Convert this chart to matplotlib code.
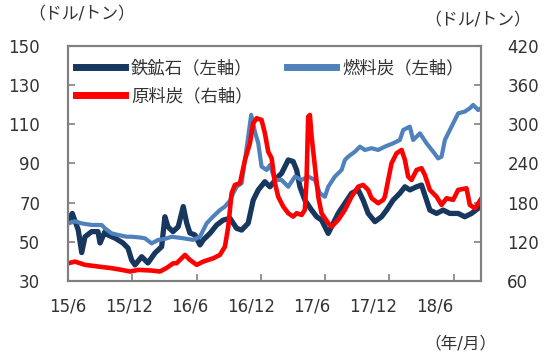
import matplotlib
matplotlib.use("Agg")
import matplotlib.pyplot as plt

plt.rcParams["font.family"] = ["DejaVu Sans", "Noto Sans CJK JP"]

# Monate seit 2015/6
tick_labels = ["15/6", "15/12", "16/6", "16/12", "17/6", "17/12", "18/6"]

# 鉄鉱石 (ドル/トン, linke Achse)
t_iron = [0.03, 0.40, 0.96, 1.28, 1.59, 2.21, 2.80, 2.99, 3.45, 3.73, 4.39, 5.13, 5.60, 5.94,
          6.25, 6.88, 7.46, 8.12, 8.74, 9.05, 9.33, 9.80, 10.29, 10.76, 11.08, 11.38, 11.85,
          12.32, 12.63, 13.25, 13.88, 14.49, 15.12, 15.74, 16.21, 16.82, 17.29, 17.76, 18.38,
          18.85, 19.47, 19.94, 20.56, 21.02, 21.34, 21.65, 22.11, 22.74, 23.21, 23.67, 24.29,
          24.76, 25.22, 25.85, 26.47, 27.09, 27.55, 28.02, 28.65, 29.27, 29.74, 30.35, 30.98,
          31.45, 31.91, 32.54, 33.00, 33.31, 33.78, 34.40, 35.02, 35.64, 36.42, 37.04, 37.67, 38.50]
iron = [61, 64.5, 56, 44.5, 52.6, 55.2, 55.2, 49.4, 55.2, 53.5, 51.9, 49.4, 46.8, 40.7,
        38.2, 42.4, 39.2, 44.3, 47.5, 62.8, 57.7, 55.2, 57.7, 68, 59.6, 54.5, 53.5,
        48.4, 51, 54.3, 58.6, 61.1, 62, 56.9, 56, 59.5, 71.3, 76.5, 80.7,
        78.1, 82.4, 85, 91.8, 91, 86.7, 78.1, 71.3, 66.2, 62.8, 61.1, 54.3,
        59.5, 64.5, 69.7, 74.8, 76.5, 71.3, 64.5, 60.3, 62.8, 66.2, 71.3, 74.8,
        78.1, 76.5, 78.1, 79, 73.9, 66.2, 64.5, 66.2, 64.5, 64.5, 62.8, 64.5, 68]

# 燃料炭 (ドル/トン, linke Achse)
t_thermal = [0.03, 0.65, 1.28, 2.21, 3.14, 3.45, 4.08, 4.69, 5.48, 5.94, 6.72, 7.18, 7.81,
             8.43, 9.05, 9.68, 10.76, 11.69, 12.32, 12.94, 13.56, 14.18, 14.65, 15.12, 15.42,
             15.74, 16.21, 16.52, 16.82, 17.10, 17.45, 17.76, 18.07, 18.54, 18.85, 19.32,
             19.94, 20.56, 21.18, 21.81, 22.42, 23.05, 23.51, 23.98, 24.29, 24.91, 25.54,
             25.85, 26.16, 26.78, 27.25, 27.71, 28.34, 28.95, 29.58, 30.35, 30.98, 31.29,
             31.91, 32.22, 32.85, 33.47, 34.09, 34.55, 34.87, 35.18, 35.80, 36.42, 37.04,
             37.51, 37.82, 38.29, 38.54]
thermal = [59.4, 60.5, 59.4, 58.6, 58.6, 56.9, 54.3, 53.5, 52.6, 52.6, 52.2, 51.8, 49.2,
           51, 51.5, 52.6, 51.8, 51, 52.6, 59.4, 63, 66.2, 68, 71, 74.8,
           78.1, 80, 91.8, 103.7, 114.8, 106.2, 100.3, 88.4, 86.7, 89.2, 81.6,
           81.6, 78.1, 83.3, 81.6, 83.3, 81.6, 74.8, 73, 78.1, 83.3, 86.7,
           91.8, 93.5, 96, 98.6, 96.9, 97.8, 96.9, 98.6, 100.3, 102, 107.1,
           108.8, 102, 105.4, 100.3, 96, 92.6, 93.5, 102, 108.8, 115.6, 116.5,
           118.2, 119.9, 117.3, 118.2]

# 原料炭 (ドル/トン, rechte Achse)
t_coking = [0.03, 0.65, 1.12, 1.59, 2.83, 4.08, 5.01, 5.79, 6.56, 7.81, 8.58, 9.21, 9.83,
            10.14, 10.92, 11.38, 12.01, 12.63, 13.56, 14.18, 14.65, 14.96, 15.27, 15.58,
            16.05, 16.52, 16.98, 17.29, 17.61, 18.07, 18.38, 18.69, 19.01, 19.32, 19.62,
            20.09, 20.56, 21.02, 21.34, 21.81, 22.11, 22.27, 22.42, 22.58, 22.74, 23.05,
            23.36, 23.67, 24.29, 24.61, 25.22, 25.85, 26.47, 27.09, 27.55, 28.02, 28.34,
            28.95, 29.42, 29.58, 29.89, 30.20, 30.67, 31.14, 31.45, 31.75, 32.07, 32.54,
            33.00, 33.31, 33.78, 34.40, 34.87, 35.34, 35.95, 36.42, 37.20, 37.51, 38.00, 38.50]
coking = [87.2, 89.7, 87.2, 84.7, 82.1, 79.6, 77, 74.5, 77, 76, 74.5, 80, 87.2,
          87.2, 99.9, 92.3, 84.7, 89.7, 94.8, 99.9, 112.6, 143.3, 194.4, 207.1,
          209.7, 245.4, 271, 301.6, 309.3, 306.7, 286.3, 258.1, 247.9, 209.7, 189.2,
          174, 163.8, 158.6, 163.8, 161.2, 168.9, 214.8, 311.7, 314.3, 281.1, 235.2,
          189.2, 163.8, 148.5, 143.3, 153.5, 168.9, 189.2, 204.5, 207.1, 199.5, 186.8,
          179.1, 184.2, 189.2, 214.8, 240.3, 255.6, 260.7, 245.4, 219.9, 214.8, 230.1,
          232.7, 222.5, 199.5, 189.2, 176.5, 186.8, 184.2, 199.5, 202, 176.5, 171.4, 184.2]

grey = "#808080"
fig = plt.figure(figsize=(5.47, 3.62), dpi=100)
ax = fig.add_axes([0.1243, 0.2238, 0.755, 0.6492])
ax2 = ax.twinx()

l1, = ax.plot(t_iron, iron, color="#17375E", lw=3.8, solid_joinstyle="round")
l2, = ax.plot(t_thermal, thermal, color="#4F81BD", lw=3.0, solid_joinstyle="round")
l3, = ax2.plot(t_coking, coking, color="#FF0000", lw=3.3, solid_joinstyle="round")

ax.set_xlim(0, 38.55)
ax.set_ylim(30, 150)
ax.set_yticks(range(30, 151, 20))
ax2.set_ylim(60, 420)
ax2.set_yticks(range(60, 421, 60))

# Teilstriche alle 6 Monate, Beschriftungen leicht versetzt wie im Original
ax.set_xticks([i * 6 for i in range(7)], minor=True)
ax.set_xticks([i * 5.7 for i in range(7)])
ax.set_xticklabels(tick_labels)
ax.tick_params(axis="x", which="major", length=0, pad=12, labelsize=12, colors="#333333")
ax.tick_params(axis="x", which="minor", direction="in", length=5, width=1.2, color=grey)
ax.tick_params(axis="y", direction="in", length=5, width=1.2, color=grey, pad=20,
               labelsize=12, labelcolor="#333333")
ax2.tick_params(axis="y", direction="in", length=5, width=1.2, color=grey, pad=19,
                labelsize=12, labelcolor="#333333")
for a in (ax, ax2):
    for s in a.spines.values():
        s.set_color(grey)
        s.set_linewidth(1.5)

fig.text(0.051, 0.959, "（ドル/トン）", fontsize=12.2, color="#333333", va="center")
fig.text(0.971, 0.945, "（ドル/トン）", fontsize=12.2, color="#333333", va="center", ha="right")
fig.text(0.908, 0.052, "（年/月）", fontsize=12, color="#333333", va="center", ha="right")

leg = ax2.legend([l1, l3, l2], ["鉄鉱石（左軸）", "原料炭（右軸）", "燃料炭（左軸）"],
                 ncol=2, loc="upper left", bbox_to_anchor=(0.012, 0.96), frameon=False,
                 fontsize=12.5, handlelength=2.8, handletextpad=0.35, columnspacing=2.0,
                 labelspacing=0.6, borderaxespad=0, borderpad=0.2)
for h in leg.get_lines():
    h.set_linewidth(5)
for txt in leg.get_texts():
    txt.set_color("#333333")

fig.savefig("out.png", dpi=100)
